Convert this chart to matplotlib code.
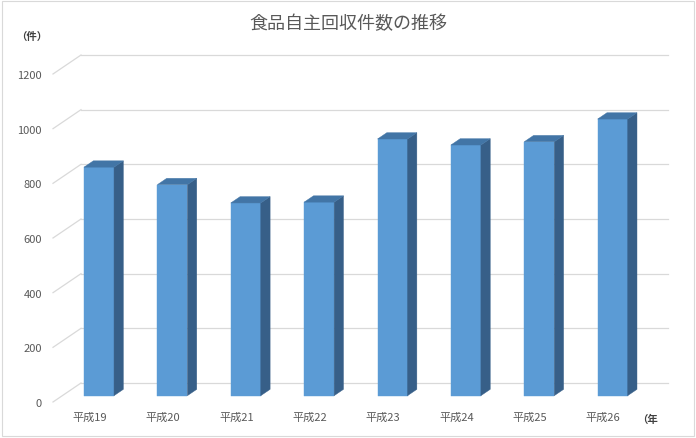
import matplotlib
matplotlib.use('Agg')
import matplotlib.pyplot as plt
from matplotlib.patches import Polygon, Rectangle

plt.rcParams['font.family'] = ['Noto Sans CJK JP', 'DejaVu Sans']

# data
categories = ['平成19', '平成20', '平成21', '平成22', '平成23', '平成24', '平成25', '平成26']
counts = [836, 772, 705, 708, 939, 917, 929, 1012]
yticks = [0, 200, 400, 600, 800, 1000, 1200]
title = '食品自主回収件数の推移'

# oblique "3d" look: full depth offset in data units
DX = 0.3816
DY = 69.5
bar_w = 0.409
front_col = '#5B9BD5'
side_col = '#375F88'
top_col = '#4275A6'
grid_col = '#D9D9D9'
text_col = '#595959'


def shift(x, y, d):
    return (x + d * DX, y + d * DY)


fig = plt.figure(figsize=(6.96, 4.39), dpi=100)
fig.patches.append(Rectangle((2 / 696, 2 / 439), 692 / 696, 435 / 439,
                             transform=fig.transFigure, fill=False,
                             edgecolor='#D9D9D9', linewidth=0.8))

ax = fig.add_axes([53 / 696, 36 / 439, 587 / 696, 328 / 439])
ax.set_xlim(-0.5, len(categories) - 0.5)
ax.set_ylim(0, 1200)
for s in ax.spines.values():
    s.set_visible(False)

x0, x1 = -0.5, len(categories) - 0.5

# back wall gridlines and left wall diagonals
for v in yticks:
    bx0, by = shift(x0, v, 1)
    bx1, _ = shift(x1, v, 1)
    ax.plot([bx0, bx1], [by, by], color=grid_col, lw=0.9, clip_on=False, zorder=1)
    ax.plot([x0, bx0], [v, by], color=grid_col, lw=0.9, clip_on=False, zorder=1)

# bars
for i, v in enumerate(counts):
    l, r = i - bar_w / 2, i + bar_w / 2
    f = 1 / 3
    b = 2 / 3
    front = [shift(l, 0, f), shift(r, 0, f), shift(r, v, f), shift(l, v, f)]
    side = [shift(r, 0, f), shift(r, 0, b), shift(r, v, b), shift(r, v, f)]
    top = [shift(l, v, f), shift(r, v, f), shift(r, v, b), shift(l, v, b)]
    for pts, c in [(front, front_col), (side, side_col), (top, top_col)]:
        ax.add_patch(Polygon(pts, closed=True, facecolor=c, edgecolor=c,
                             lw=0.3, clip_on=False, zorder=3))

ax.set_yticks(yticks)
ax.set_yticklabels([str(t) for t in yticks])
ax.set_xticks(range(len(categories)))
ax.set_xticklabels(categories)
ax.tick_params(axis='y', length=0, pad=8, labelsize=8, labelcolor=text_col)
ax.tick_params(axis='x', length=0, pad=7, labelsize=8, labelcolor=text_col)

fig.text(0.5, 1 - 24 / 439, title, ha='center', va='center',
         fontsize=13, color=text_col)
fig.text(32 / 696, 1 - 37 / 439, '（件）', ha='center', va='center',
         fontsize=7.5, fontweight='bold', color='#404040')
fig.text(637 / 696, 1 - 420 / 439, '（年', ha='left', va='center',
         fontsize=7.5, fontweight='bold', color='#404040')

fig.savefig('out.png', dpi=100)
